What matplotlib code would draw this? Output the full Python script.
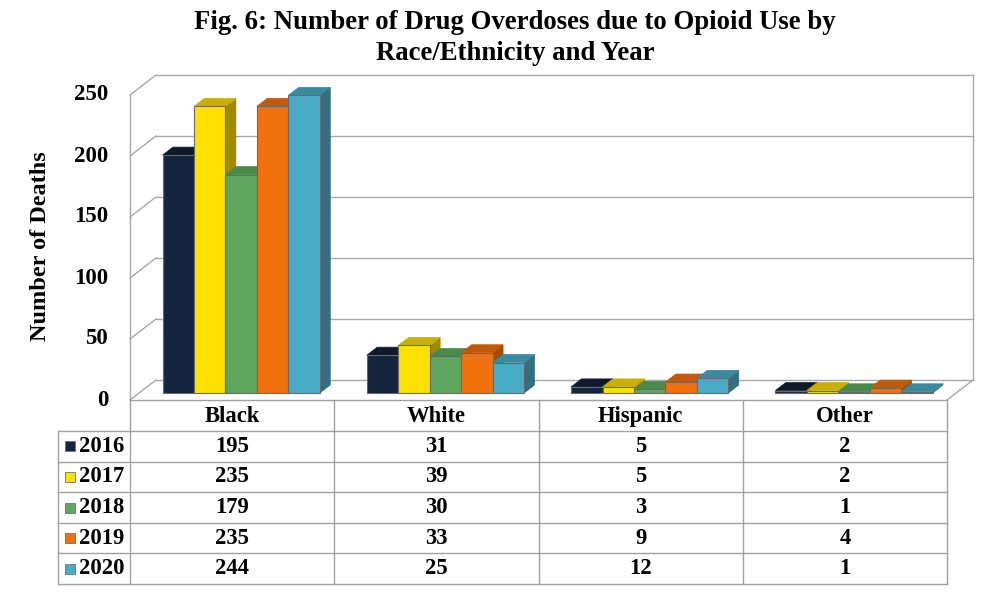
import matplotlib
matplotlib.use("Agg")
import matplotlib.pyplot as plt
from matplotlib.patches import Polygon, Rectangle

# ---- data ----
categories = ["Black", "White", "Hispanic", "Other"]
years = ["2016", "2017", "2018", "2019", "2020"]
deaths = {
    "2016": [195, 31, 5, 2],
    "2017": [235, 39, 5, 2],
    "2018": [179, 30, 3, 1],
    "2019": [235, 33, 9, 4],
    "2020": [244, 25, 12, 1],
}
y_ticks = [0, 50, 100, 150, 200, 250]

title = "Fig. 6: Number of Drug Overdoses due to Opioid Use by\nRace/Ethnicity and Year"
y_label = "Number of Deaths"

# front, top, side shades per series
colors = {
    "2016": ("#14253d", "#0e1a2c", "#0b1524"),
    "2017": ("#ffe000", "#c9b000", "#a08a00"),
    "2018": ("#5fa65f", "#4a8a4a", "#3f733f"),
    "2019": ("#f0710e", "#c25a0c", "#a84c08"),
    "2020": ("#4aabc6", "#3a8aa0", "#336f80"),
}

plt.rcParams["font.family"] = ["Liberation Serif", "DejaVu Serif"]
plt.rcParams["font.weight"] = "bold"

W, H = 997, 593
fig = plt.figure(figsize=(W / 100, H / 100), dpi=100)

# layout in pixels
left_px, right_px = 130, 947
floor_px, top_px = 400, 95
unit_px = (right_px - left_px) / len(categories)
val_px = (floor_px - top_px) / 250.0
depth_x_px, depth_y_px = 26, 20
DX = depth_x_px / unit_px
DY = depth_y_px / val_px

xmax = len(categories) + DX
ymax = 250 + DY
ax = fig.add_axes([left_px / W, 1 - floor_px / H,
                   (xmax * unit_px) / W, (ymax * val_px) / H])
ax.set_xlim(0, xmax)
ax.set_ylim(0, ymax)
ax.axis("off")

grid_c = "#a8a8a8"
ncat = len(categories)

# gridlines on the side wall and the back wall
for v in y_ticks:
    ax.plot([0, DX], [v, v + DY], color=grid_c, lw=1.0, clip_on=False)
    ax.plot([DX, ncat + DX], [v + DY, v + DY], color=grid_c, lw=1.0, clip_on=False)
# outer edges of the walls and floor
ax.plot([0, 0], [0, 250], color=grid_c, lw=1.0, clip_on=False)
ax.plot([ncat + DX, ncat + DX], [DY, 250 + DY], color=grid_c, lw=1.0, clip_on=False)
ax.plot([ncat, ncat + DX], [0, DY], color=grid_c, lw=1.0, clip_on=False)

# bars
gap = 0.23
bw = (1 - gap) / len(years)
d0, d1 = 0.35, 0.75
bx0, by0 = d0 * DX, d0 * DY
bdx, bdy = (d1 - d0) * DX, (d1 - d0) * DY
for i in range(ncat):
    for j, yr in enumerate(years):
        v = deaths[yr][i]
        fc, tc, sc = colors[yr]
        x0 = i + gap / 2 + j * bw + bx0
        y0 = by0
        front = Rectangle((x0, y0), bw, v, facecolor=fc, edgecolor="#6a6a6a",
                          lw=0.8, clip_on=False, zorder=3)
        top = Polygon([(x0, y0 + v), (x0 + bw, y0 + v), (x0 + bw + bdx, y0 + v + bdy),
                       (x0 + bdx, y0 + v + bdy)], closed=True, facecolor=tc,
                      edgecolor=tc, lw=0.5, clip_on=False, zorder=3)
        side = Polygon([(x0 + bw, y0), (x0 + bw + bdx, y0 + bdy),
                        (x0 + bw + bdx, y0 + v + bdy), (x0 + bw, y0 + v)], closed=True,
                       facecolor=sc, edgecolor=sc, lw=0.5, clip_on=False, zorder=3)
        ax.add_patch(side)
        ax.add_patch(top)
        ax.add_patch(front)

# overlay axes in pixel units for text and the data table
ov = fig.add_axes([0, 0, 1, 1])
ov.set_xlim(0, W)
ov.set_ylim(H, 0)
ov.axis("off")
ov.patch.set_alpha(0)

ov.text(515, 38, title, ha="center", va="center", fontsize=19.3,
        fontweight="bold", linespacing=1.3)
ov.text(40, 246, y_label, ha="center", va="center", rotation=90,
        fontsize=17.5, fontweight="bold")
for v in y_ticks:
    ov.text(108, floor_px - v * val_px, str(v), ha="right", va="center",
            fontsize=16.5, fontweight="bold")

# data table
tc_ = "#a0a0a0"
table_left, header_bot = 58, 431
row_h = (584 - header_bot) / len(years)
col_x = [left_px + k * unit_px for k in range(ncat + 1)]
ov.plot([left_px, right_px], [floor_px, floor_px], color=tc_, lw=1.0)
for k, xx in enumerate(col_x):
    ov.plot([xx, xx], [floor_px, 584], color=tc_, lw=1.0)
ov.plot([table_left, table_left], [header_bot, 584], color=tc_, lw=1.0)
for r in range(len(years) + 1):
    yy = header_bot + r * row_h
    ov.plot([table_left, right_px], [yy, yy], color=tc_, lw=1.0)

for i, cat in enumerate(categories):
    cx = col_x[i] + unit_px / 2
    ov.text(cx, (floor_px + header_bot) / 2 + 1, cat, ha="center", va="center",
            fontsize=16.3, fontweight="bold")
    for r, yr in enumerate(years):
        cy = header_bot + (r + 0.5) * row_h
        ov.text(cx, cy, str(deaths[yr][i]), ha="center", va="center",
                fontsize=16.3, fontweight="bold")

for r, yr in enumerate(years):
    cy = header_bot + (r + 0.5) * row_h
    ov.add_patch(Rectangle((65, cy - 5), 10, 10, facecolor=colors[yr][0],
                           edgecolor="#707070", lw=0.6))
    ov.text(79, cy, yr, ha="left", va="center", fontsize=16.3, fontweight="bold")

fig.savefig("out.png", dpi=100)
